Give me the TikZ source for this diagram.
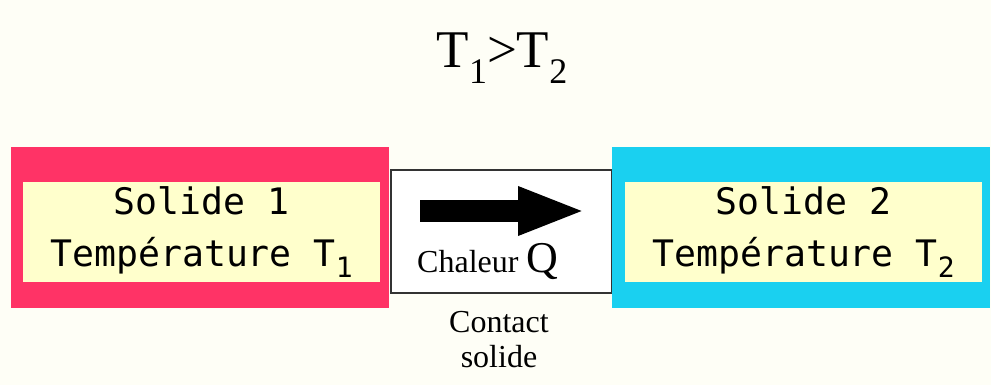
\documentclass[tikz,border=0pt]{standalone}
\usepackage{fontspec}
\setmainfont{Liberation Serif}
\newfontfamily\monof{DejaVu Sans Mono}
\usetikzlibrary{arrows.meta}
\definecolor{bgc}{HTML}{FEFEF6}
\definecolor{redc}{HTML}{FF3366}
\definecolor{cyanc}{HTML}{1AD0F0}
\definecolor{beigec}{HTML}{FFFFCC}
\definecolor{edgec}{HTML}{333333}
\tikzset{
  outerbox/.style={draw=none, minimum width=378pt, minimum height=161pt, inner sep=0pt},
  innerbox/.style={fill=beigec, draw=none, minimum width=357pt, minimum height=100pt, inner sep=0pt,
    align=center, font=\monof\fontsize{36.5}{52}\selectfont},
  serif/.style={inner sep=0pt, align=center},
}
\newcommand{\msub}[1]{\raisebox{-0.28em}{\fontsize{28}{28}\selectfont #1}}
\begin{document}
\begin{tikzpicture}[x=1pt,y=-1pt]
\fill[bgc] (0,0) rectangle (991,385);
\useasboundingbox (0,0) rectangle (991,385);
% title
\node[serif, font=\fontsize{53}{53}\selectfont] (title) at (502,58) {T\raisebox{-0.3em}{\fontsize{36}{36}\selectfont 1}>T\raisebox{-0.3em}{\fontsize{36}{36}\selectfont 2}};
% middle contact box
\node[draw=edgec, line width=1.5pt, fill=white, minimum width=221pt, minimum height=123pt, inner sep=0pt] (mid) at (501.5,231.5) {};
% left solid
\node[outerbox, fill=redc] (s1) at (200,227.5) {};
\node[innerbox] (s1in) at (201.5,232) {Solide 1\\Température T\msub{1}};
% right solid
\node[outerbox, fill=cyanc] (s2) at (801,227.5) {};
\node[innerbox] (s2in) at (803.5,232) {Solide 2\\Température T\msub{2}};
% arrow
\coordinate (ar1) at (420,211);
\coordinate (ar2) at (586,211);
\draw[line width=22pt, -{Triangle[length=68pt,width=44pt]}] (ar1) -- (ar2);
% labels
\node[serif, anchor=base west] (chal) at (417,272) {\fontsize{32}{32}\selectfont Chaleur \fontsize{44}{44}\selectfont Q};
\node[serif, font=\fontsize{32}{35}\selectfont] (contact) at (499,340) {Contact\\solide};
\end{tikzpicture}
\end{document}
